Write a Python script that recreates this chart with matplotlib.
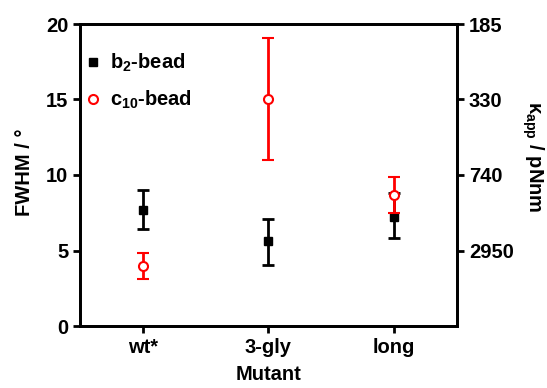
import numpy as np
import matplotlib
matplotlib.use("Agg")
from matplotlib import pyplot as plt

plt.rcParams['font.family'] = ['Liberation Sans', 'DejaVu Sans']
plt.rcParams['font.weight'] = 'bold'
plt.rcParams['mathtext.default'] = 'regular'

mutants = ['wt*', '3-gly', 'long']
b2_fwhm = [7.7, 5.6, 7.25]
b2_low = [6.4, 4.05, 5.8]
b2_high = [9.0, 7.1, 8.8]
c10_fwhm = [4.0, 15.0, 8.7]
c10_low = [3.1, 11.0, 7.5]
c10_high = [4.85, 19.1, 9.85]
right_ticks = [20, 15, 10, 5]
right_labels = ['185', '330', '740', '2950']

x = np.arange(1, len(mutants) + 1)
fs = 14.5

fig = plt.figure(figsize=(5.47, 3.88), dpi=100)
ax = fig.add_axes([80 / 547, 62 / 388, 377 / 547, 302 / 388])

b2 = np.array(b2_fwhm)
c10 = np.array(c10_fwhm)
ax.errorbar(x, c10, yerr=[c10 - np.array(c10_low), np.array(c10_high) - c10],
            fmt='o', color='red', mfc='white', mec='red', ms=6.5, mew=1.5,
            elinewidth=2, capsize=4.5, capthick=2, zorder=3)
ax.errorbar(x, b2, yerr=[b2 - np.array(b2_low), np.array(b2_high) - b2],
            fmt='s', color='black', ms=5.5, elinewidth=2, capsize=4.5,
            capthick=2, zorder=2)

# legend drawn as marker + text
ax.plot([0.6], [17.5], 's', color='black', ms=5.5)
ax.plot([0.6], [15.0], 'o', color='red', mfc='white', mew=1.5, ms=6.5)
ax.text(0.735, 17.45, 'b$_2$-bead', fontsize=fs, fontweight='bold', va='center')
ax.text(0.735, 14.95, 'c$_{10}$-bead', fontsize=fs, fontweight='bold', va='center')

ax.set_xlim(0.5, 3.5)
ax.set_ylim(0, 20)
ax.set_xticks(x)
ax.set_xticklabels(mutants)
ax.set_yticks([0, 5, 10, 15, 20])
ax.tick_params(axis='both', direction='out', length=5, width=2, labelsize=fs)
for s in ax.spines.values():
    s.set_linewidth(2)
ax.set_xlabel('Mutant', fontsize=fs, fontweight='bold')
ax.xaxis.set_label_coords(0.5, -0.128)
ax.set_ylabel('FWHM / °', fontsize=fs, fontweight='bold')
ax.yaxis.set_label_coords(-0.122, 0.51)

ax2 = ax.twinx()
ax2.set_ylim(0, 20)
ax2.set_yticks(right_ticks)
ax2.set_yticklabels(right_labels)
ax2.tick_params(axis='y', direction='out', length=5, width=2, labelsize=fs)
for s in ax2.spines.values():
    s.set_linewidth(2)
ax2.set_ylabel('κ$_{app}$ / pNnm', fontsize=fs, fontweight='bold', rotation=270,
               va='center')
ax2.yaxis.set_label_coords(1.2, 0.56)

for lab in ax.get_xticklabels() + ax.get_yticklabels() + ax2.get_yticklabels():
    lab.set_fontweight('bold')

plt.savefig('out.png', dpi=100)
